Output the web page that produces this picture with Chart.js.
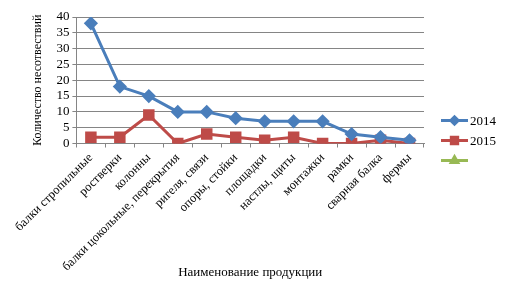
<!DOCTYPE html>
<html>
<head>
<meta charset="utf-8">
<script src="https://cdn.jsdelivr.net/npm/chart.js@4"></script>
<style>
  html, body { margin: 0; padding: 0; background: #fff; }
  #wrap { width: 507px; height: 283px; }
</style>
</head>
<body>
<div id="wrap"><canvas id="chart"></canvas></div>
<script>
// --- данные графика ---
const categories = [
  'балки стропильные', 'ростверки', 'колонны', 'балки цокольные, перекрытия',
  'ригеля, связи', 'опоры, стойки', 'площадки', 'настлы, щиты',
  'монтажки', 'рамки', 'сварная балка', 'фермы'
];
const values2014 = [38, 18, 15, 10, 10, 8, 7, 7, 7, 3, 2, 1];
const values2015 = [2, 2, 9, 0, 3, 2, 1, 2, 0, 0, 1, 0];
const values3 = categories.map(() => null); // пустой ряд, только в легенде
const seriesNames = ['2014', '2015', ''];
const yTicks = [0, 5, 10, 15, 20, 25, 30, 35, 40];

const FONT = '"Liberation Serif", "Times New Roman", serif';
const GRID = '#858585';

// --- легенда: линия с маркером, как в Excel ---
const lineLegend = {
  id: 'lineLegend',
  afterDraw(chart) {
    const ctx = chart.ctx;
    const area = chart.chartArea;
    const x0 = area.right + 17;
    const x1 = area.right + 44;
    chart.data.datasets.forEach((ds, i) => {
      const y = chart.height / 2 - 1 + (i - 1) * 20;
      ctx.save();
      ctx.strokeStyle = ds.borderColor;
      ctx.lineWidth = 3;
      ctx.beginPath();
      ctx.moveTo(x0, y);
      ctx.lineTo(x1, y);
      ctx.stroke();
      Chart.helpers.drawPoint(ctx, {
        pointStyle: ds.pointStyle,
        radius: ds.pointRadius * 0.75,
        rotation: 0,
        borderWidth: 1
      }, (x0 + x1) / 2, y);
      ctx.fillStyle = ds.pointBackgroundColor;
      ctx.fill();
      ctx.fillStyle = '#000';
      ctx.font = '13px ' + FONT;
      ctx.textBaseline = 'middle';
      ctx.fillText(ds.label, x1 + 2, y + 1);
      ctx.restore();
    });
  }
};

const ctx = document.getElementById('chart').getContext('2d');
new Chart(ctx, {
  type: 'line',
  data: {
    labels: categories,
    datasets: [
      {
        label: seriesNames[0], data: values2014,
        borderColor: '#4a7ebb', backgroundColor: '#4a7ebb',
        pointBackgroundColor: '#4a7ebb', pointBorderColor: '#4a7ebb',
        pointStyle: 'rectRot', pointRadius: 5, borderWidth: 3, tension: 0
      },
      {
        label: seriesNames[1], data: values2015,
        borderColor: '#be4b48', backgroundColor: '#be4b48',
        pointBackgroundColor: '#be4b48', pointBorderColor: '#be4b48',
        pointStyle: 'rect', pointRadius: 6, borderWidth: 3, tension: 0
      },
      {
        label: seriesNames[2], data: values3,
        borderColor: '#98b954', backgroundColor: '#98b954',
        pointBackgroundColor: '#98b954', pointBorderColor: '#98b954',
        pointStyle: 'triangle', pointRadius: 5, borderWidth: 3, tension: 0
      }
    ]
  },
  options: {
    responsive: true,
    maintainAspectRatio: false,
    animation: false,
    layout: { padding: { left: 31, right: 83, top: 17, bottom: 3 } },
    plugins: { legend: { display: false }, tooltip: { enabled: false } },
    scales: {
      x: {
        offset: true,
        afterFit(axis) { axis.height += 5; },
        grid: { offset: true, drawOnChartArea: false, drawTicks: true, tickLength: 4, color: GRID },
        border: { color: GRID },
        ticks: {
          color: '#000', font: { family: FONT, size: 12.5 },
          maxRotation: 45, minRotation: 45, autoSkip: false, padding: 3
        },
        title: {
          display: true, text: 'Наименование продукции', color: '#000',
          font: { family: FONT, size: 13 }, padding: { top: 0, bottom: 0 }
        }
      },
      y: {
        min: yTicks[0], max: yTicks[yTicks.length - 1],
        afterBuildTicks(axis) { axis.ticks = yTicks.map(v => ({ value: v })); },
        grid: { color: GRID, tickLength: 4 },
        border: { color: GRID },
        ticks: { color: '#000', font: { family: FONT, size: 13 }, padding: 3, autoSkip: false },
        title: {
          display: true, text: 'Количество несотвествий', color: '#000',
          font: { family: FONT, size: 12 }, padding: { top: 0, bottom: 8 }
        }
      }
    }
  },
  plugins: [lineLegend]
});
</script>
</body>
</html>
